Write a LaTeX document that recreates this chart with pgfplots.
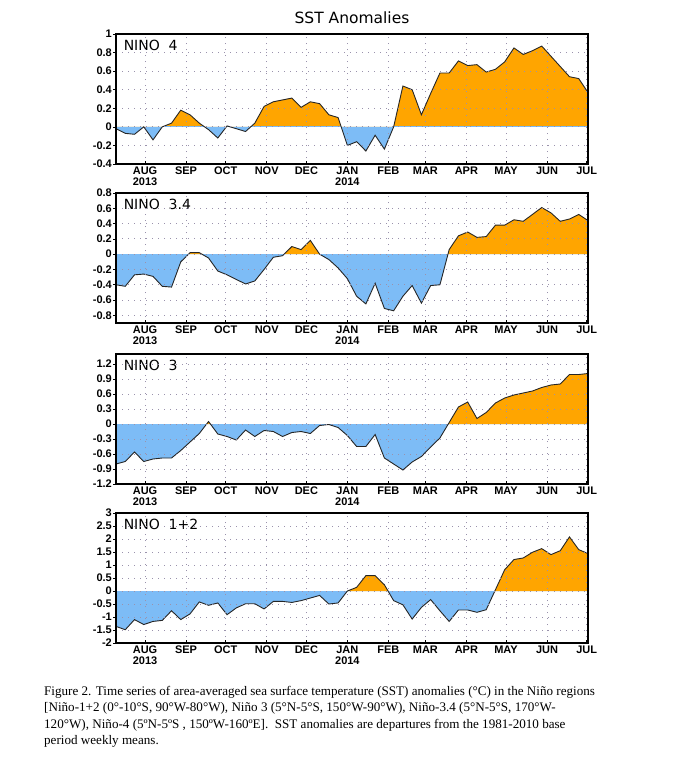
\documentclass[border=0pt]{standalone}
\usepackage{fontspec}
\setmainfont{Liberation Serif}
\newfontfamily\gsans{DejaVu Sans}
\newfontfamily\tsans{Liberation Sans}
\usepackage{pgfplots}
\pgfplotsset{compat=1.18}
\usepackage{pgfplotstable}

\definecolor{sstorange}{HTML}{FFA500}
\definecolor{sstblue}{HTML}{7DBCF6}
\definecolor{gridgray}{HTML}{9A92AC}

% weekly values, day = days since 1 Aug 2013
\pgfplotstableread{
day n4 n34 n3 n12
-22 -0.02 -0.40 -0.80 -1.36
-15 -0.07 -0.42 -0.75 -1.49
-8 -0.08 -0.27 -0.56 -1.10
-1 0.00 -0.26 -0.75 -1.29
6 -0.14 -0.29 -0.70 -1.17
13 0.00 -0.42 -0.68 -1.13
20 0.04 -0.43 -0.68 -0.76
27 0.18 -0.10 -0.53 -1.10
34 0.13 0.02 -0.36 -0.88
41 0.04 0.02 -0.19 -0.42
48 -0.03 -0.05 0.05 -0.55
55 -0.12 -0.22 -0.20 -0.46
62 0.01 -0.27 -0.25 -0.91
69 -0.02 -0.33 -0.32 -0.65
76 -0.05 -0.39 -0.12 -0.49
83 0.04 -0.35 -0.25 -0.49
90 0.22 -0.20 -0.13 -0.69
97 0.27 -0.04 -0.15 -0.40
104 0.29 -0.02 -0.25 -0.40
111 0.31 0.10 -0.17 -0.44
118 0.21 0.06 -0.15 -0.37
125 0.27 0.18 -0.19 -0.27
132 0.25 0.00 -0.03 -0.17
139 0.13 -0.07 -0.01 -0.50
146 0.10 -0.18 -0.07 -0.46
153 -0.20 -0.32 -0.23 0.00
160 -0.16 -0.55 -0.45 0.14
167 -0.26 -0.65 -0.45 0.59
174 -0.09 -0.38 -0.21 0.59
181 -0.24 -0.71 -0.68 0.24
188 0.00 -0.74 -0.80 -0.37
195 0.44 -0.55 -0.92 -0.53
202 0.40 -0.41 -0.76 -1.08
209 0.13 -0.64 -0.65 -0.63
216 0.36 -0.41 -0.46 -0.33
223 0.58 -0.40 -0.28 -0.76
230 0.58 0.06 0.03 -1.17
237 0.71 0.24 0.34 -0.73
244 0.66 0.29 0.44 -0.73
251 0.67 0.22 0.11 -0.82
258 0.59 0.23 0.23 -0.72
265 0.62 0.38 0.42 0.05
272 0.70 0.38 0.52 0.82
279 0.85 0.45 0.58 1.21
286 0.78 0.43 0.62 1.27
293 0.82 0.52 0.66 1.49
300 0.87 0.61 0.73 1.63
307 0.76 0.54 0.78 1.40
314 0.65 0.43 0.80 1.55
321 0.54 0.46 0.99 2.08
328 0.52 0.52 0.99 1.59
335 0.37 0.44 1.01 1.44
}\sstdata

\pgfplotsset{
  ninopanel/.style={
    scale only axis, width=472pt, height=130pt,
    anchor=north west,
    xmin=-22, xmax=335,
    xtick={0,31,61,92,122,153,184,212,243,273,304,334},
    xticklabels={{AUG\\2013},SEP,OCT,NOV,DEC,{JAN\\2014},FEB,MAR,APR,MAY,JUN,JUL},
    xticklabel style={align=center, font=\tsans\bfseries\fontsize{11}{10.5}\selectfont, inner sep=1pt, yshift=-2pt},
    yticklabel style={font=\tsans\bfseries\fontsize{11}{11}\selectfont, inner sep=1pt},
    /pgf/number format/assume math mode=true,
    grid=major,
    grid style={gridgray, line width=0.8pt, dash pattern=on 1.1pt off 4.9pt},
    axis line style={black, line width=1.4pt},
    tick style={black, line width=0.7pt},
    major tick length=3pt,
    xtick align=inside, ytick align=outside,
    xtick pos=bottom, ytick pos=left,
    axis on top,
  },
}

\newcommand{\ninopanel}[6]{%
  \begin{axis}[ninopanel, at={(116pt,#1)}, ymin=#3, ymax=#4, ytick={#5}]
    \begin{scope}
      \clip (axis cs:-22,0) rectangle (axis cs:335,#4);
      \addplot[fill=sstorange, draw=none] table[x=day, y=#2] {\sstdata} \closedcycle;
    \end{scope}
    \begin{scope}
      \clip (axis cs:-22,#3) rectangle (axis cs:335,0);
      \addplot[fill=sstblue, draw=none] table[x=day, y=#2] {\sstdata} \closedcycle;
    \end{scope}
    \addplot[black!85, line width=0.9pt] table[x=day, y=#2] {\sstdata};
    \node[anchor=north west, inner sep=0, font=\gsans\fontsize{14}{14}\selectfont]
      at (axis description cs:0.016,0.955) {#6};
  \end{axis}}

\begin{document}
\begin{tikzpicture}
  \node[font=\gsans\fontsize{15.5}{18}\selectfont] at (352pt,-18pt) {SST Anomalies};

  \ninopanel{-34pt}{n4}{-0.4}{1}{-0.4,-0.2,0,0.2,0.4,0.6,0.8,1}{NINO\ \ 4}
  \ninopanel{-193pt}{n34}{-0.9}{0.8}{-0.8,-0.6,-0.4,-0.2,0,0.2,0.4,0.6,0.8}{NINO\ \ 3.4}
  \ninopanel{-354pt}{n3}{-1.2}{1.4}{-1.2,-0.9,-0.6,-0.3,0,0.3,0.6,0.9,1.2}{NINO\ \ 3}
  \ninopanel{-513pt}{n12}{-2}{3}{-2,-1.5,-1,-0.5,0,0.5,1,1.5,2,2.5,3}{NINO\ \ 1+2}

  \node[anchor=north west, align=left, inner sep=0, font=\fontsize{13.1}{16.5}\selectfont]
    at (44pt,-686pt) {Figure 2. Time series of area-averaged sea surface temperature (SST) anomalies (°C) in the Niño regions\\
    {[}Niño-1+2 (0°-10°S, 90°W-80°W), Niño 3 (5°N-5°S, 150°W-90°W), Niño-3.4 (5°N-5°S, 170°W-\\
    120°W), Niño-4 (5ºN-5ºS , 150ºW-160ºE].\ \ SST anomalies are departures from the 1981-2010 base\\
    period weekly means.};

  \path[use as bounding box] (0,0) rectangle (683pt,-772pt);
\end{tikzpicture}
\end{document}
